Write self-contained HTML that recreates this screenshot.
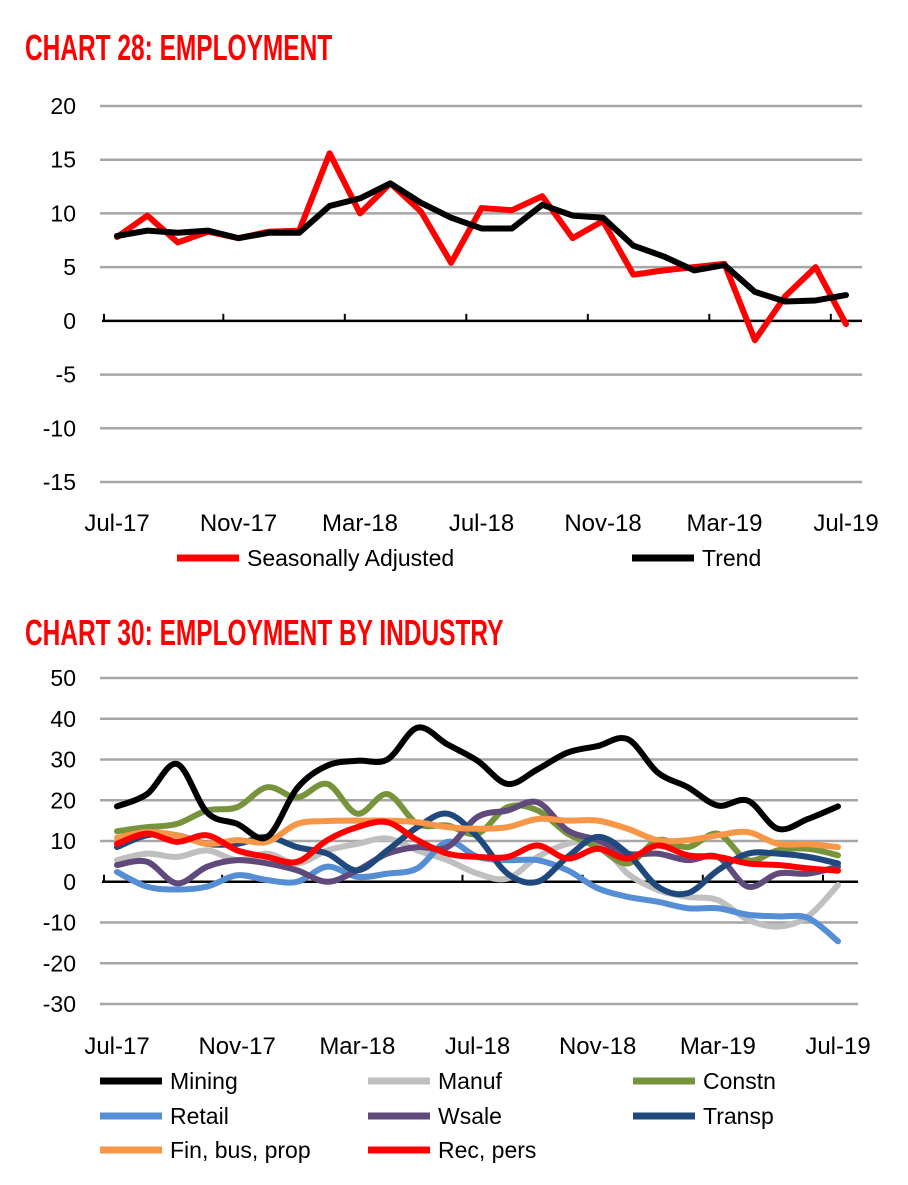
<!DOCTYPE html>
<html><head><meta charset="utf-8"><style>
body{margin:0;background:#fff;width:908px;height:1180px;overflow:hidden;font-family:"Liberation Sans",sans-serif}
svg text{font-family:"Liberation Sans",sans-serif}
</style></head><body>
<svg id="s" width="908" height="1180">
<text x="25" y="60" fill="#f00" font-weight="bold" font-size="36" transform="scale(0.68,1)" transform-origin="25 60">CHART 28: EMPLOYMENT</text>
<text x="25" y="645" fill="#f00" font-weight="bold" font-size="36" transform="scale(0.68,1)" transform-origin="25 645">CHART 30: EMPLOYMENT BY INDUSTRY</text>
<g id="c1"></g>
<g id="c2"></g>
</svg>
<script>
const xLabels=["Jul-17","Nov-17","Mar-18","Jul-18","Nov-18","Mar-19","Jul-19"];
const yTicks1=[20,15,10,5,0,-5,-10,-15];
const yTicks2=[50,40,30,20,10,0,-10,-20,-30];
const saValues=[7.8,9.8,7.3,8.3,7.7,8.3,8.4,15.6,10.0,12.8,10.2,5.4,10.5,10.3,11.6,7.7,9.3,4.3,4.7,5.0,5.3,-1.8,2.3,5.0,-0.3];
const trendValues=[7.9,8.4,8.2,8.4,7.7,8.2,8.2,10.7,11.4,12.8,11.0,9.6,8.6,8.6,10.8,9.8,9.6,7.0,6.0,4.7,5.2,2.7,1.8,1.9,2.4];
const mining=[18.5,21.5,28.9,17,14.2,11,23,28.5,29.7,30,37.8,33.7,29.7,24,27.6,31.7,33.3,35,26.8,23.2,18.7,19.9,13,15.4,18.5];
const manuf=[5.3,6.9,6.1,7.7,5.3,6.9,4.5,7.7,9.3,10.6,7.7,5.3,2,0.8,6.1,9.3,9.8,2,-2,-3.7,-4.5,-9.3,-11,-8.5,-0.8];
const constn=[12.4,13.4,14.2,17.5,18.3,23.2,20.7,24,16.7,21.5,14.2,13.8,11.8,18.3,17.5,11.8,8.5,4.5,10.2,8.5,11.8,5.3,7.7,8.1,6.5];
const retail=[2.4,-1.2,-1.9,-1.2,1.6,0.4,0,3.7,1.2,2,3.3,9.8,6.1,5.3,5.3,2.8,-1.6,-3.7,-4.9,-6.5,-6.5,-8.1,-8.5,-8.9,-14.6];
const wsale=[4.1,4.9,-0.4,3.7,5.3,4.5,2.8,0,2.8,6.9,8.5,8.5,15.9,17.5,19.5,12.6,10.2,6.9,6.9,5.3,6.1,-1.2,2,2,3.7];
const transp=[8.5,11.4,11.4,9.3,9.3,11,8.5,6.9,2.8,7.7,13.4,16.7,11,2,0,6.1,11,6.9,-1.2,-2.8,2.8,6.9,6.9,6.1,4.5];
const finbus=[10.8,12.2,11.4,9.3,10.2,9.8,14.2,14.9,15,15,14.6,13.4,13,13.4,15.4,15,15,13,10.2,10.2,11.4,12.2,9.3,9.2,8.5];
const recpers=[9.3,11.8,9.8,11.4,7.7,6.1,4.9,10.2,13.4,14.6,10.2,6.9,6.1,6.1,8.9,5.7,8.1,5.7,8.9,6.5,6.1,4.5,4.1,3.3,2.7];

const NS="http://www.w3.org/2000/svg";
function mk(tag,parent,attrs){const e=document.createElementNS(NS,tag);for(const k in attrs)e.setAttribute(k,attrs[k]);parent.appendChild(e);return e;}

function drawChart(g,cfg){
  const {x0,x1,yTop,yBot,vTop,vBot,ticks,labelY}=cfg;
  const ys=v=>yTop+(vTop-v)/(vTop-vBot)*(yBot-yTop);
  const xs=i=>x0+(x1-x0)*i/24;
  ticks.forEach(t=>{
    if(t!==0){const l=mk('line',g,{x1:100,x2:cfg.gx1,y1:ys(t),y2:ys(t),stroke:'#a6a6a6','stroke-width':2.5});
    
    }
    const tx=mk('text',g,{x:76,y:ys(t)+8,'text-anchor':'end','font-size':23,fill:'#000'});
    
    
    tx.textContent=t;
  });
  const ax=mk('line',g,{x1:102,x2:cfg.gx1,y1:ys(0),y2:ys(0),stroke:'#000','stroke-width':2.5});
  
  
  [0,1,2,3,4,5,6].forEach(k=>{
    const tx=x0+(x1-x0)*(k*4-0.5)/24;
    const tk=mk('line',g,{x1:Math.max(tx,104),x2:Math.max(tx,104),y1:ys(0)-7,y2:ys(0),stroke:'#000','stroke-width':2});
    
    
    const lb=mk('text',g,{x:xs(k*4),y:labelY,'text-anchor':'middle','font-size':24,fill:'#000'});
    
    
    lb.textContent=xLabels[k];
  });
  cfg.series.forEach(s=>{
    const pts=s.values.map((v,i)=>[xs(i),ys(v)]);
    let d='M'+pts[0][0]+','+pts[0][1];
    if(cfg.smooth){
      for(let i=0;i<pts.length-1;i++){
        const p0=pts[Math.max(i-1,0)],p1=pts[i],p2=pts[i+1],p3=pts[Math.min(i+2,pts.length-1)];
        d+=' C'+(p1[0]+(p2[0]-p0[0])/6)+','+(p1[1]+(p2[1]-p0[1])/6)+' '+(p2[0]-(p3[0]-p1[0])/6)+','+(p2[1]-(p3[1]-p1[1])/6)+' '+p2[0]+','+p2[1];
      }
    } else pts.slice(1).forEach(p=>d+=' L'+p[0]+','+p[1]);
    const p=mk('path',g,{d:d,fill:'none',stroke:s.color,'stroke-width':s.w,'stroke-linejoin':'round','stroke-linecap':'round'});
    
    
  });
  cfg.series.forEach(s=>{
    const l=mk('line',g,{x1:s.lx,x2:s.lx+62,y1:s.ly,y2:s.ly,stroke:s.color,'stroke-width':7});
    
    
    const t=mk('text',g,{x:s.lx+70,y:s.ly+8,'font-size':23,fill:'#000'});
    
    
    t.textContent=s.label;
  });
}
drawChart(document.getElementById('c1'),{x0:117,x1:846,gx1:862,yTop:106,yBot:482,vTop:20,vBot:-15,ticks:yTicks1,labelY:531,smooth:false,
 series:[{name:'seasonally-adjusted',label:'Seasonally Adjusted',values:saValues,color:'#ff0000',w:6,lx:177,ly:558},
         {name:'trend',label:'Trend',values:trendValues,color:'#000',w:6,lx:632,ly:558}]});
drawChart(document.getElementById('c2'),{x0:117,x1:838,gx1:858,yTop:678,yBot:1004,vTop:50,vBot:-30,ticks:yTicks2,labelY:1054,smooth:true,
 series:[{name:'manuf',label:'Manuf',values:manuf,color:'#bfbfbf',w:6,lx:368,ly:1081},
         {name:'constn',label:'Constn',values:constn,color:'#77933c',w:6,lx:633,ly:1081},
         {name:'retail',label:'Retail',values:retail,color:'#558ed5',w:6,lx:100,ly:1116},
         {name:'wsale',label:'Wsale',values:wsale,color:'#604a7b',w:6,lx:368,ly:1116},
         {name:'transp',label:'Transp',values:transp,color:'#1f497d',w:6,lx:633,ly:1116},
         {name:'fin-bus-prop',label:'Fin, bus, prop',values:finbus,color:'#f79646',w:6,lx:100,ly:1150},
         {name:'rec-pers',label:'Rec, pers',values:recpers,color:'#ff0000',w:6,lx:368,ly:1150},
         {name:'mining',label:'Mining',values:mining,color:'#000',w:6,lx:100,ly:1081}]});
</script>
</body></html>
